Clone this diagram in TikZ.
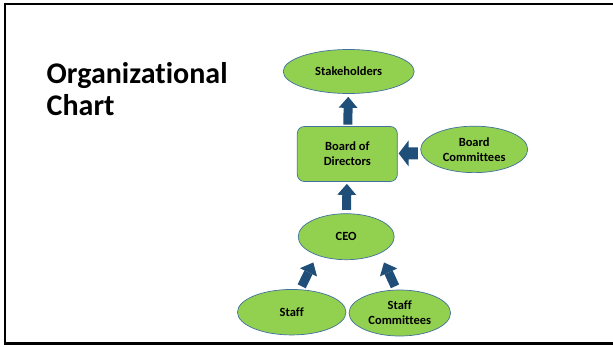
\documentclass[tikz,border=0pt]{standalone}
\usepackage{fontspec}
\setmainfont{Carlito}[Ligatures=CommonOff]
\usetikzlibrary{shapes.geometric,arrows.meta,calc}
\definecolor{boxgreen}{HTML}{92D050}
\definecolor{boxline}{HTML}{41719C}
\definecolor{arrowblue}{HTML}{1F4E79}
\tikzset{
  orgnode/.style={fill=boxgreen, draw=boxline, line width=0.7pt, inner sep=0pt, align=center,
    font=\fontsize{12.5}{15}\selectfont\bfseries, text=black},
  oval/.style={orgnode, ellipse},
  boxnode/.style={orgnode, rectangle, rounded corners=7pt},
  blk/.style={draw=arrowblue, line width=9pt, -{Triangle[length=11pt,width=19pt,line width=0pt]}},
  blkfill/.style={fill=arrowblue},
  titletext/.style={anchor=base west, inner sep=0pt, font=\fontsize{30}{34}\selectfont\bfseries}
}
\begin{document}
\begin{tikzpicture}[x=1pt,y=-1pt]
\useasboundingbox (0,0) rectangle (613,346);
\draw[line width=2.5pt, black] (613,3.8) -- (5,3.8) -- (5,343.5) -- (613,343.5);
\node[titletext] (title1) at (46.5,83.3) {Organizational};
\node[titletext] (title2) at (46.5,115) {Chart};
\node[oval, minimum width=131pt, minimum height=44pt] (stake) at (348.7,71.5) {Stakeholders};
\node[boxnode, minimum width=100pt, minimum height=55pt] (board) at (347.3,154) {Board of\\Directors};
\node[oval, minimum width=107pt, minimum height=46.5pt] (bcom) at (474.2,149.4) {Board\\Committees};
\node[oval, minimum width=96pt, minimum height=46pt] (ceo) at (346.2,236.7) {CEO};
\node[oval, minimum width=108.5pt, minimum height=45.5pt] (staff) at (291.7,312.2) {Staff};
\node[oval, minimum width=101.5pt, minimum height=46pt] (scom) at (399.8,313) {Staff\\Committees};
\draw[blk, shorten <=1.5pt, shorten >=3pt] (board) -- (stake);
\draw[blk, shorten <=3.5pt, shorten >=2pt] (ceo) -- (board);
\coordinate (ltip) at ($(board.east)+(1,-0.6)$);
\coordinate (ltail) at ($(bcom.west)+(-2.5,4)$);
\fill[blkfill] (ltip) -- ++(10,-13) -- ++(0,7) -- (ltail |- 0,147.4) -- (ltail |- 0,159.4) -- ++(-10,0) -- ++(0,0) -- ($(ltip)+(10,6)$) -- ($(ltip)+(10,13)$) -- cycle;
\draw[blk] ($(staff.north)+(10,-2.8)$) -- ($(ceo.south)+(-32.9,2.4)$);
\draw[blk] ($(scom.north)+(-4.8,-3.3)$) -- ($(ceo.south)+(37.8,2.4)$);
\end{tikzpicture}
\end{document}
